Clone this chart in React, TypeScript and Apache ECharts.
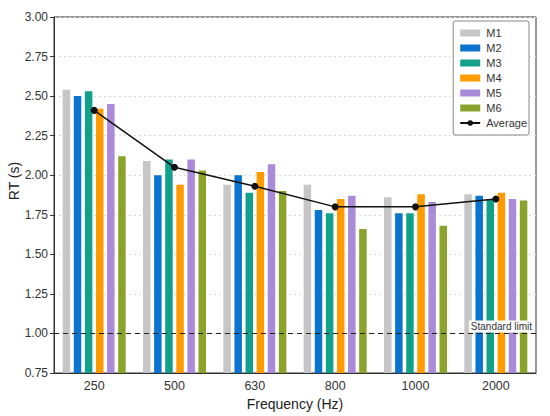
import React, { useEffect, useRef } from "react";
import * as echarts from "echarts";

const categories = ["250", "500", "630", "800", "1000", "2000"];
const seriesNames = ["M1", "M2", "M3", "M4", "M5", "M6"];
const m1 = [2.54, 2.09, 1.94, 1.94, 1.86, 1.88];
const m2 = [2.5, 2.0, 2.0, 1.78, 1.76, 1.87];
const m3 = [2.53, 2.1, 1.89, 1.76, 1.76, 1.85];
const m4 = [2.42, 1.94, 2.02, 1.85, 1.88, 1.89];
const m5 = [2.45, 2.1, 2.07, 1.87, 1.83, 1.85];
const m6 = [2.12, 2.03, 1.9, 1.66, 1.68, 1.84];
const average = [2.41, 2.05, 1.93, 1.8, 1.8, 1.85];
const standardLimit = 1.0;
const colors = ["#c6c6c6", "#0a74cf", "#12a08a", "#ff9a00", "#a98bd9", "#8ba32a"];

const FONT = "'Liberation Sans', Arial, sans-serif";

export default function App() {
  const ref = useRef<HTMLDivElement>(null);
  useEffect(() => {
    document.body.style.margin = "0";
    const chart = echarts.init(ref.current!, undefined, { renderer: "svg" });
    const barData = [m1, m2, m3, m4, m5, m6];
    const bars = seriesNames.map((name, i) => ({
      name,
      type: "bar",
      data: barData[i],
      barWidth: 7.5,
      barGap: "48%",
      itemStyle: { color: colors[i] },
    }));
    chart.setOption({
      animation: false,
      backgroundColor: "#ffffff",
      textStyle: { fontFamily: FONT },
      grid: {
        left: 54,
        right: 14,
        top: 17,
        bottom: 416 - 373,
        containLabel: false,
        outerBoundsMode: "none",
        show: true,
        borderColor: "#333",
        borderWidth: 1,
        backgroundColor: "transparent",
      },
      graphic: [
        {
          type: "text",
          x: 14,
          y: 181,
          rotation: Math.PI / 2,
          style: {
            text: "RT (s)",
            fontSize: 14,
            fill: "#222",
            fontFamily: FONT,
            align: "center",
            verticalAlign: "middle",
          },
        },
      ],
      legend: {
        orient: "vertical",
        right: 21,
        top: 21,
        padding: [5, 2, 5, 6],
        itemWidth: 20,
        itemHeight: 7,
        itemGap: 1,
        borderColor: "#888",
        borderWidth: 1,
        borderRadius: 2,
        backgroundColor: "#fff",
        textStyle: {
          fontSize: 11,
          lineHeight: 14,
          color: "#333",
          fontFamily: FONT,
          padding: [0, 0, 0, 1],
        },
        data: [
          ...seriesNames.map((n) => ({ name: n, icon: "rect" })),
          { name: "Average" },
        ],
      },
      xAxis: {
        type: "category",
        data: categories,
        name: "Frequency (Hz)",
        nameLocation: "middle",
        nameGap: 21,
        nameTextStyle: { fontSize: 14, color: "#222", fontFamily: FONT },
        axisLine: { lineStyle: { color: "#333", width: 1 } },
        axisTick: { show: false },
        axisLabel: { fontSize: 12.5, color: "#333", margin: 6, fontFamily: FONT },
      },
      yAxis: {
        type: "value",
        min: 0.75,
        max: 3.0,
        interval: 0.25,
        axisLine: { show: true, lineStyle: { color: "#333", width: 1 } },
        axisTick: { show: true, length: 4, lineStyle: { color: "#333" } },
        axisLabel: {
          fontSize: 12,
          color: "#333",
          margin: 6,
          fontFamily: FONT,
          formatter: (v: number) => v.toFixed(2),
        },
        splitLine: { show: true, lineStyle: { color: "#dcdcdc", type: [2, 3], width: 1 } },
      },
      series: [
        ...bars,
        {
          name: "Average",
          type: "line",
          data: average,
          z: 5,
          symbol: "circle",
          symbolSize: 7,
          itemStyle: { color: "#111" },
          lineStyle: { color: "#111", width: 1.5 },
          markLine: {
            silent: true,
            symbol: "none",
            lineStyle: { color: "#222", type: [5, 4], width: 1.2 },
            label: {
              show: true,
              position: "insideEndTop",
              formatter: "Standard limit",
              fontSize: 10,
              color: "#333",
              backgroundColor: "#fff",
              padding: [1, 2],
              distance: [2, 1],
              fontFamily: FONT,
            },
            data: [{ yAxis: standardLimit }],
          },
        },
      ],
    });
    return () => chart.dispose();
  }, []);
  return <div ref={ref} style={{ width: 550, height: 416 }} />;
}
